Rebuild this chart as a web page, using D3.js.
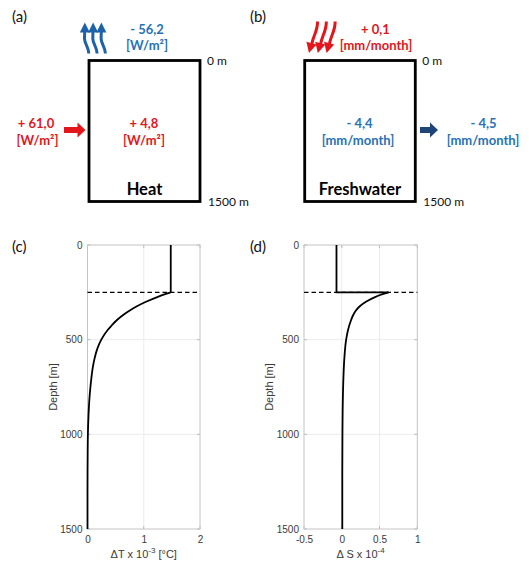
<!DOCTYPE html>
<html>
<head>
<meta charset="utf-8">
<script src="https://cdn.jsdelivr.net/npm/d3@7"></script>
<style>
  html, body { margin: 0; padding: 0; background: #fff; }
  svg { display: block; }
</style>
</head>
<body>
<svg id="fig" width="529" height="567"></svg>
<script>
// ---- Profile data: temperature anomaly (x 10^-3 °C) and salinity anomaly (x 10^-4) vs depth ----
const mixedLayerDepth = 250;
const dTMixed = 1.48;
const dSMixed = -0.07;

const depthT = [250, 260, 275, 300, 325, 350, 375, 400, 425, 450, 500, 550, 600, 650, 700, 750, 800, 850, 900, 1000, 1100, 1200, 1300, 1500];
const dT     = [1.48, 1.38, 1.24, 1.04, 0.87, 0.73, 0.61, 0.51, 0.43, 0.355, 0.245, 0.172, 0.125, 0.092, 0.07, 0.052, 0.037, 0.026, 0.018, 0.007, 0.003, 0.001, 0, 0];

const depthS = [250, 260, 275, 300, 325, 350, 375, 400, 450, 500, 600, 700, 800, 1000, 1200, 1500];
const dS     = [0.62, 0.54, 0.44, 0.32, 0.235, 0.18, 0.145, 0.12, 0.082, 0.058, 0.034, 0.022, 0.015, 0.009, 0.007, 0.007];

const depthTicks = [0, 500, 1000, 1500];
const tTicks = [0, 1, 2];
const sTicks = [-0.5, 0, 0.5, 1];

// ---- Budget numbers shown on the box schematics ----
const heatLabels = { surface: "- 56,2", lateral: "+ 61,0", storage: "+ 4,8", unit: "[W/m²]" };
const fwLabels   = { surface: "+ 0,1", lateral: "- 4,5", storage: "- 4,4", unit: "[mm/month]" };

const BLUE = "#2672b8";
const ARROW_BLUE = "#1d62a8";
const RED = "#e3161c";
const NAVY = "#1f4476";
const svg = d3.select("#fig");

// ---------- Box schematics (a) and (b) ----------
const boxTop = 60.5, boxBottom = 201.5;

function panelLetter(x, y, t) {
  svg.append("text").attr("x", x).attr("y", y).attr("font-family", "Lato, 'Open Sans', sans-serif")
    .attr("font-size", 15).attr("fill", "#111").attr("dominant-baseline", "central").text(t);
}

function label(x, y, t, color, size, weight, anchor) {
  svg.append("text").attr("x", x).attr("y", y)
    .attr("font-family", "Lato, 'Open Sans', sans-serif")
    .attr("font-size", size).attr("font-weight", weight || "bold")
    .attr("fill", color).attr("text-anchor", anchor || "middle")
    .attr("dominant-baseline", "central").text(t);
}

function box(x0, x1, name) {
  svg.append("rect").attr("x", x0).attr("y", boxTop).attr("width", x1 - x0).attr("height", boxBottom - boxTop)
    .attr("fill", "none").attr("stroke", "#000").attr("stroke-width", 2.8);
  label((x0 + x1) / 2, 189, name, "#000", 16.5, "bold");
  label(x1 + 7, 60, "0 m", "#111", 12, "normal", "start");
  label(x1 + 8, 201, "1500 m", "#111", 12, "normal", "start");
}

function straightArrow(xTail, xTip, y, color) {
  const headLen = 8, half = 7.5, shaft = 3;
  svg.append("path")
    .attr("d", `M${xTail},${y - shaft} L${xTip - headLen},${y - shaft} L${xTip - headLen},${y - half}
                L${xTip},${y} L${xTip - headLen},${y + half} L${xTip - headLen},${y + shaft} L${xTail},${y + shaft}Z`)
    .attr("fill", color);
}

// wavy flux arrows at the sea surface (x = arrow tip)
function wavyUp(x, color) {
  svg.append("path")
    .attr("d", `M${x + 3.8},53.5 C${x + 3.8},47 ${x - 0.5},44 ${x - 0.5},38.5 L${x - 0.3},30.5`)
    .attr("fill", "none").attr("stroke", color).attr("stroke-width", 3);
  svg.append("path").attr("d", `M${x - 5.2},32.5 L${x - 0.2},22.5 L${x + 4.8},32.5Z`).attr("fill", color);
}
function wavyDown(x, color) {
  svg.append("path")
    .attr("d", `M${x + 8.5},21.5 C${x + 9},30.5 ${x + 4},36 ${x + 2.8},44`)
    .attr("fill", "none").attr("stroke", color).attr("stroke-width", 3);
  svg.append("path").attr("d", `M${x - 2.6},41.8 L${x},53 L${x + 7.6},44.6Z`).attr("fill", color);
}

// (a) Heat
panelLetter(12, 16, "(a)");
box(89, 200, "Heat");
[0, 1, 2].forEach(i => wavyUp(85 + i * 8.3, ARROW_BLUE));
label(147, 28.5, heatLabels.surface, BLUE, 13);
label(147, 45, heatLabels.unit, BLUE, 13);
label(36, 123, heatLabels.lateral, RED, 13);
label(37.5, 139.5, heatLabels.unit, RED, 13);
straightArrow(64, 85.5, 130, RED);
label(144, 123, heatLabels.storage, RED, 13);
label(144, 140, heatLabels.unit, RED, 13);

// (b) Freshwater
panelLetter(250, 16, "(b)");
box(304.7, 415.3, "Freshwater");
[0, 1, 2].forEach(i => wavyDown(309 + i * 8.8, RED));
label(375.5, 28.5, fwLabels.surface, RED, 13);
label(376, 45, fwLabels.unit, RED, 13);
label(359.5, 123, fwLabels.storage, BLUE, 13);
label(358, 140, fwLabels.unit, BLUE, 13);
straightArrow(420, 438, 130, NAVY);
label(483.5, 123, fwLabels.lateral, BLUE, 13);
label(483, 139.5, fwLabels.unit, BLUE, 13);

// ---------- Depth profiles (c) and (d) ----------
const y = d3.scaleLinear().domain([0, 1500]).range([245, 529]);
const xT = d3.scaleLinear().domain([0, 2]).range([87.5, 200]);
const xS = d3.scaleLinear().domain([-0.5, 1]).range([304, 417.3]);

const AXIS_FONT = "'Liberation Sans', Arial, sans-serif";

function profile(x, xTicks, depths, values, mixedVal, xLabelParts, letter, letterX) {
  const g = svg.append("g");
  const [x0, x1] = x.range();
  const [y0, y1] = y.range();

  // grid
  g.selectAll(".gx").data(xTicks.slice(1, -1)).join("line")
    .attr("x1", d => x(d)).attr("x2", d => x(d)).attr("y1", y0).attr("y2", y1)
    .attr("stroke", "#ebebeb").attr("stroke-width", 1);
  g.selectAll(".gy").data(depthTicks.slice(1, -1)).join("line")
    .attr("y1", d => y(d)).attr("y2", d => y(d)).attr("x1", x0).attr("x2", x1)
    .attr("stroke", "#ebebeb").attr("stroke-width", 1);

  // inward ticks on all four sides
  const tl = 3;
  xTicks.forEach(d => {
    g.append("line").attr("x1", x(d)).attr("x2", x(d)).attr("y1", y1).attr("y2", y1 - tl).attr("stroke", "#bbb");
    g.append("line").attr("x1", x(d)).attr("x2", x(d)).attr("y1", y0).attr("y2", y0 + tl).attr("stroke", "#bbb");
  });
  depthTicks.forEach(d => {
    g.append("line").attr("y1", y(d)).attr("y2", y(d)).attr("x1", x0).attr("x2", x0 + tl).attr("stroke", "#bbb");
    g.append("line").attr("y1", y(d)).attr("y2", y(d)).attr("x1", x1).attr("x2", x1 - tl).attr("stroke", "#bbb");
  });

  // frame
  g.append("rect").attr("x", x0).attr("y", y0).attr("width", x1 - x0).attr("height", y1 - y0)
    .attr("fill", "none").attr("stroke", "#c4c4c4").attr("stroke-width", 1);

  // tick labels
  const ax = g.append("g").attr("transform", `translate(0,${y1})`)
    .call(d3.axisBottom(x).tickValues(xTicks).tickSize(0).tickPadding(7).tickFormat(d => String(d)));
  const ay = g.append("g").attr("transform", `translate(${x0},0)`)
    .call(d3.axisLeft(y).tickValues(depthTicks).tickSize(0).tickPadding(5).tickFormat(d => String(d)));
  [ax, ay].forEach(a => {
    a.select(".domain").remove();
    a.selectAll("text").attr("font-family", AXIS_FONT).attr("font-size", 10).attr("fill", "#3a3a3a");
  });

  // axis titles
  g.append("text").attr("transform", `translate(${x0 - 35},${(y0 + y1) / 2}) rotate(-90)`)
    .attr("text-anchor", "middle").attr("dominant-baseline", "central")
    .attr("font-family", AXIS_FONT).attr("font-size", 11).attr("fill", "#3a3a3a").text("Depth [m]");
  const xl = g.append("text").attr("x", (x0 + x1) / 2).attr("y", 554)
    .attr("text-anchor", "middle").attr("dominant-baseline", "central")
    .attr("font-family", AXIS_FONT).attr("font-size", 11).attr("fill", "#3a3a3a");
  xLabelParts.forEach(p => {
    const ts = xl.append("tspan").text(p.t);
    if (p.sup) ts.attr("font-size", 8).attr("dy", -4);
    if (p.after) ts.attr("dy", 4);
  });

  // mixed-layer base (dashed)
  g.append("line").attr("x1", x0).attr("x2", x1).attr("y1", y(mixedLayerDepth)).attr("y2", y(mixedLayerDepth))
    .attr("stroke", "#000").attr("stroke-width", 1.3).attr("stroke-dasharray", "4.5,3");

  // well-mixed layer then decaying anomaly below it
  const upper = [[mixedVal, 0], [mixedVal, mixedLayerDepth], [values[0], depths[0]]];
  g.append("path").datum(upper)
    .attr("d", d3.line().x(d => x(d[0])).y(d => y(d[1])))
    .attr("fill", "none").attr("stroke", "#000").attr("stroke-width", 1.8).attr("stroke-linejoin", "miter");
  g.append("path").datum(depths.map((d, i) => [values[i], d]))
    .attr("d", d3.line().x(d => x(d[0])).y(d => y(d[1])).curve(d3.curveMonotoneY))
    .attr("fill", "none").attr("stroke", "#000").attr("stroke-width", 1.8);

  panelLetter(letterX, 246, letter);
}

profile(xT, tTicks, depthT, dT, dTMixed,
  [{ t: "ΔT x 10" }, { t: "-3", sup: true }, { t: " [°C]", after: true }], "(c)", 12);
profile(xS, sTicks, depthS, dS, dSMixed,
  [{ t: "Δ S x 10" }, { t: "-4", sup: true }], "(d)", 250);
</script>
</body>
</html>
